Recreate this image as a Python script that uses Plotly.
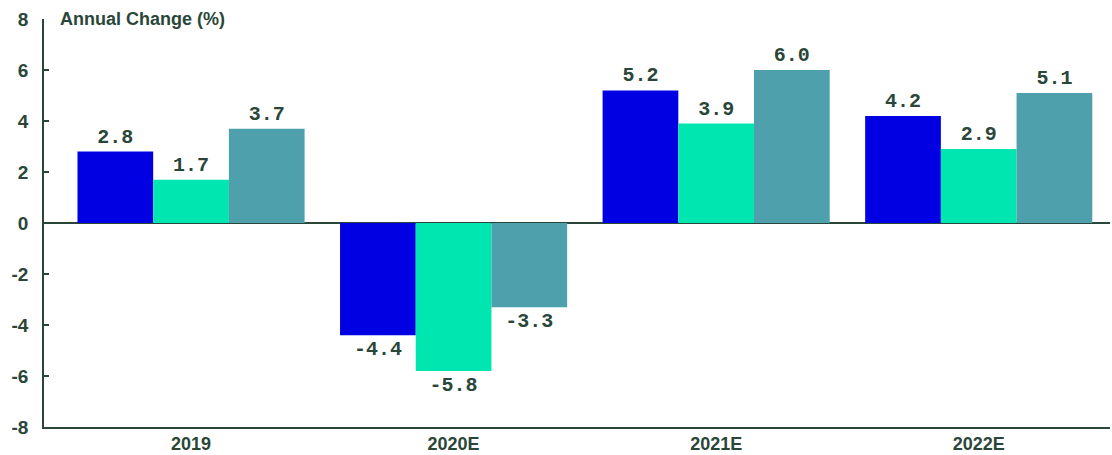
import plotly.graph_objects as go

categories = ["2019", "2020E", "2021E", "2022E"]
series_a = [2.8, -4.4, 5.2, 4.2]
series_b = [1.7, -5.8, 3.9, 2.9]
series_c = [3.7, -3.3, 6.0, 5.1]
y_ticks = [8, 6, 4, 2, 0, -2, -4, -6, -8]

ink = "#2a4639"
colors = ["#0000E2", "#00E6B1", "#4EA0AD"]

fig = go.Figure()
for vals, col in zip([series_a, series_b, series_c], colors):
    fig.add_trace(go.Bar(
        x=categories, y=vals, marker=dict(color=col, line=dict(width=0)),
        text=[f"{v:.1f}" for v in vals], textposition="outside",
        textfont=dict(family="Liberation Mono", size=20, color=ink, weight="bold"),
        cliponaxis=False, showlegend=False,
    ))

fig.update_layout(
    width=1112, height=455,
    margin=dict(l=44, r=2, t=19, b=28, autoexpand=False),
    plot_bgcolor="white", paper_bgcolor="white",
    barmode="group", bargap=0.135, bargroupgap=0,
    font=dict(family="Liberation Sans", color=ink),
)
fig.update_xaxes(
    range=[-0.56, 3.5], showgrid=False, showline=True, linecolor=ink, linewidth=1.5,
    ticks="", ticklabelstandoff=0, automargin=False,
    tickfont=dict(family="Liberation Sans", size=18, color=ink, weight="bold"),
)
fig.update_yaxes(
    range=[-8, 8], tickvals=y_ticks, ticktext=[str(t) for t in y_ticks],
    showgrid=False, showline=True, linecolor=ink, linewidth=1.5, automargin=False,
    ticks="inside", ticklen=5, tickcolor=ink, tickwidth=1.5, ticklabelstandoff=10,
    zeroline=True, zerolinecolor=ink, zerolinewidth=1.5,
    tickfont=dict(family="Liberation Sans", size=19, color=ink, weight="bold"),
)
fig.add_annotation(
    text="Annual Change (%)", xref="paper", yref="paper", x=0.013, y=1.0,
    xanchor="left", yanchor="middle", showarrow=False,
    font=dict(family="Liberation Sans", size=18, color=ink, weight="bold"),
)
fig.write_html("out.html")
